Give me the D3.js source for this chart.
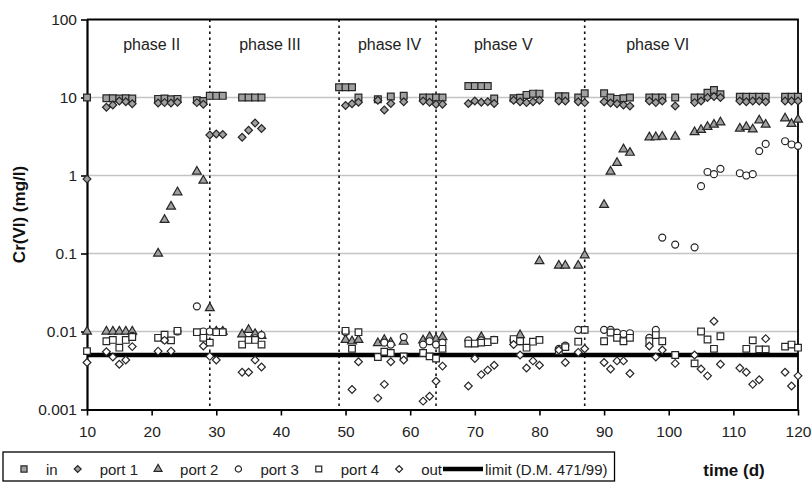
<!DOCTYPE html>
<html>
<head>
<meta charset="utf-8">
<script src="https://cdn.jsdelivr.net/npm/d3@7"></script>
<style>
  body { margin: 0; background: #fff; }
  svg { font-family: "Liberation Sans", Arial, sans-serif; }
</style>
</head>
<body>
<div id="chart"></div>
<script>
// [day, mg/l]
var inData = [[10,10],[13,9.8],[14,9.8],[15,9.7],[16,9.8],[17,9.7],[21,9.6],[22,9.7],[23,9.5],[24,9.6],[27,9.2],[28,9.0],
  [29,10.5],[30,10.5],[31,10.5],[34,10],[35,10],[36,10],[37,10],[49,13.5],[50,13.5],[51,13.5],[52,10],[55,9.5],[57,10.3],
  [59,10.5],[62,10],[63,10],[64,10],[65,10],[69,14],[70,14],[71,14],[72,14],[73,9.7],[76,9.8],[77,9.9],[78,10.8],[79,11.2],
  [80,11.2],[83,10.4],[84,10.4],[86,10],[87,11.3],[90,11.3],[91,10],[92,9.6],[93,9.8],[94,10],[97,10],[98,10],[99,10],
  [101,10],[104,10],[105,10],[106,11.5],[107,12.5],[108,11],[111,10.2],[112,10.2],[113,10.2],[114,10.2],[115,10.2],
  [118,10.2],[119,10.2],[120,10.2]];

var port1Data = [[10,0.9],[13,7.5],[14,8.0],[15,9.0],[16,8.8],[17,8.3],[21,8.5],[22,8.6],[23,8.5],[24,8.7],[27,8.6],[28,8.2],
  [29,3.3],[30,3.4],[31,3.35],[34,3.1],[35,3.8],[36,4.7],[37,4.0],[50,7.9],[51,8.3],[52,8.7],[55,9.2],[56,6.9],[57,8.4],
  [59,8.8],[62,9.0],[63,8.7],[64,8.2],[65,8.2],[69,8.4],[70,9.0],[71,8.7],[72,8.8],[73,8.4],[76,9.2],[77,8.8],[78,8.6],
  [79,8.8],[80,9.2],[83,9.0],[84,9.0],[86,8.8],[87,8.6],[90,8.8],[91,8.5],[92,8.3],[93,8.0],[94,7.8],[97,9.0],[98,8.6],
  [99,9.0],[101,7.8],[104,8.6],[105,9.0],[106,10],[107,10.3],[108,10],[111,9.0],[112,8.8],[113,9.0],[114,9.0],[115,8.8],
  [118,9.0],[119,9.0],[120,9.0]];

var port2Data = [[10,0.01],[13,0.01],[14,0.01],[15,0.01],[16,0.01],[17,0.01],[21,0.1],[22,0.27],[23,0.4],[24,0.61],
  [27,1.12],[28,0.86],[29,0.02],[30,0.01],[31,0.01],[34,0.0092],[35,0.0105],[36,0.0093],[37,0.0088],[50,0.0078],
  [51,0.0075],[52,0.0078],[55,0.0071],[56,0.0078],[57,0.0072],[59,0.0074],[62,0.0077],[63,0.0085],[64,0.008],[65,0.0085],
  [71,0.0085],[77,0.009],[80,0.08],[83,0.07],[84,0.07],[86,0.07],[87,0.095],[90,0.42],[91,1.12],[92,1.45],[93,2.17],
  [94,1.96],[97,3.09],[98,3.1],[99,3.15],[101,3.15],[104,3.6],[105,3.85],[106,4.2],[107,4.5],[108,4.8],[111,4.0],
  [112,4.2],[113,3.9],[114,5.1],[115,4.5],[118,5.4],[119,4.6],[120,5.2]];

var port3Data = [[17,0.0088],[22,0.0078],[24,0.01],[27,0.021],[28,0.01],[29,0.01],[30,0.01],[31,0.01],[36,0.0082],
  [37,0.009],[50,0.0098],[56,0.0072],[57,0.0068],[59,0.0085],[62,0.0068],[63,0.0075],[64,0.0068],[65,0.0072],[69,0.0077],
  [71,0.0077],[73,0.0078],[76,0.0078],[77,0.0075],[83,0.006],[84,0.0066],[86,0.0105],[90,0.0105],[91,0.0105],[92,0.0097],
  [93,0.0093],[94,0.0095],[97,0.0083],[98,0.0105],[99,0.16],[101,0.13],[104,0.12],[105,0.73],[106,1.11],[107,1.04],
  [108,1.22],[111,1.07],[112,1.0],[113,1.04],[114,2.06],[115,2.54],[118,2.75],[119,2.5],[120,2.4]];

var port4Data = [[10,0.0056],[13,0.0075],[14,0.0078],[15,0.0062],[16,0.0078],[17,0.0085],[21,0.0083],[22,0.0091],
  [23,0.0077],[24,0.0102],[27,0.0098],[28,0.0083],[29,0.0072],[30,0.0098],[31,0.0098],[34,0.0068],[35,0.0078],[36,0.0078],
  [37,0.0068],[50,0.0102],[51,0.006],[52,0.0098],[55,0.0047],[56,0.0055],[57,0.0053],[59,0.0048],[62,0.0053],[63,0.0048],
  [64,0.0045],[65,0.006],[69,0.007],[70,0.007],[71,0.0072],[72,0.0073],[73,0.0078],[76,0.008],[77,0.0075],[78,0.0062],
  [79,0.0074],[80,0.0078],[83,0.0056],[84,0.0063],[86,0.0074],[87,0.0105],[90,0.0075],[91,0.0097],[92,0.0083],[93,0.0075],
  [94,0.0083],[97,0.0075],[98,0.009],[99,0.0075],[101,0.005],[104,0.0039],[105,0.01],[106,0.0079],[107,0.006],[108,0.0087],
  [112,0.006],[113,0.0077],[114,0.0059],[115,0.0059],[118,0.0064],[119,0.0068],[120,0.0062]];

var outData = [[10,0.004],[13,0.0055],[14,0.0047],[15,0.0038],[16,0.0043],[17,0.0064],[21,0.0056],[22,0.0077],[23,0.0056],
  [28,0.0065],[29,0.0048],[30,0.0043],[34,0.003],[35,0.003],[36,0.0043],[37,0.0035],[51,0.0018],[52,0.0041],[55,0.0014],
  [56,0.0021],[57,0.0041],[59,0.0043],[62,0.00128],[63,0.00148],[64,0.0023],[65,0.0036],[69,0.002],[70,0.0045],[71,0.0028],
  [72,0.0032],[73,0.0037],[76,0.0068],[77,0.005],[78,0.0034],[79,0.0042],[80,0.0037],[83,0.0058],[84,0.004],[86,0.0054],
  [87,0.006],[90,0.004],[91,0.0033],[92,0.0042],[93,0.0042],[94,0.0029],[97,0.0065],[98,0.0047],[99,0.0058],[101,0.0039],
  [104,0.005],[105,0.0033],[106,0.0027],[107,0.0135],[108,0.0038],[111,0.0034],[112,0.003],[113,0.0021],[114,0.0024],
  [115,0.0081],[118,0.003],[119,0.002],[120,0.0027]];

var limitValue = 0.005;
var phaseBounds = [29, 49, 64, 87];
var phaseNames = ["phase II", "phase III", "phase IV", "phase V", "phase VI"];
var phaseLabelDays = [20, 38.3, 56.8, 74.4, 98.3];
var xTicks = [10, 20, 30, 40, 50, 60, 70, 80, 90, 100, 110, 120];
var yTicks = [0.001, 0.01, 0.1, 1, 10, 100];
var yTickLabels = ["0.001", "0.01", "0.1", "1", "10", "100"];
var legendNames = ["in", "port 1", "port 2", "port 3", "port 4", "out"];

var W = 812, H = 483;
var svg = d3.select("#chart").append("svg")
    .attr("width", W)
    .attr("height", H);

var x = d3.scaleLinear().domain([10, 120]).range([87, 798]);
var y = d3.scaleLog().domain([0.001, 100]).range([409.5, 19.5]);

var styles = [
  { data: inData,    sym: d3.symbolSquare,   size: 46, rot: 0,  fill: "#a0a0a0" },
  { data: port1Data, sym: d3.symbolSquare,   size: 30, rot: 45, fill: "#a0a0a0" },
  { data: port2Data, sym: d3.symbolTriangle, size: 34, rot: 0,  fill: "#a0a0a0" },
  { data: port3Data, sym: d3.symbolCircle,   size: 38, rot: 0,  fill: "#fff" },
  { data: port4Data, sym: d3.symbolSquare,   size: 44, rot: 0,  fill: "#fff" },
  { data: outData,   sym: d3.symbolSquare,   size: 30, rot: 45, fill: "#fff" }
];

///////////// GRID /////////////
svg.append("g").selectAll("line")
    .data(yTicks.slice(1, 5))
    .enter().append("line")
    .attr("x1", x(10)).attr("x2", x(120))
    .attr("y1", function(d) { return y(d); })
    .attr("y2", function(d) { return y(d); })
    .attr("stroke", "#c4c4c4")
    .attr("stroke-width", 1.5);

///////////// PHASE DIVIDERS /////////////
svg.append("g").selectAll("line")
    .data(phaseBounds)
    .enter().append("line")
    .attr("x1", function(d) { return x(d); })
    .attr("x2", function(d) { return x(d); })
    .attr("y1", y(100)).attr("y2", y(0.001))
    .attr("stroke", "#111")
    .attr("stroke-width", 1.6)
    .attr("stroke-dasharray", "2.5,3.5");

svg.append("g").selectAll("text")
    .data(phaseNames)
    .enter().append("text")
    .attr("x", function(d, i) { return x(phaseLabelDays[i]); })
    .attr("y", 49.5)
    .attr("text-anchor", "middle")
    .attr("font-size", 16)
    .attr("fill", "#222")
    .text(function(d) { return d; });

///////////// LIMIT LINE /////////////
svg.append("line")
    .attr("x1", x(10)).attr("x2", x(120))
    .attr("y1", y(limitValue)).attr("y2", y(limitValue))
    .attr("stroke", "#000")
    .attr("stroke-width", 4.5);

///////////// AXES /////////////
var xAxis = svg.append("g")
    .attr("transform", "translate(0," + y(0.001) + ")")
    .call(d3.axisBottom(x).tickValues(xTicks).tickSize(6).tickSizeOuter(0).tickPadding(10));
var yAxis = svg.append("g")
    .attr("transform", "translate(" + x(10) + ",0)")
    .call(d3.axisLeft(y).tickValues(yTicks).tickSize(6).tickSizeOuter(0).tickPadding(4)
      .tickFormat(function(d, i) { return yTickLabels[i]; }));

[xAxis, yAxis].forEach(function(a) {
  a.select(".domain").attr("stroke", "#000").attr("stroke-width", 2.2);
  a.selectAll(".tick line").attr("stroke", "#000").attr("stroke-width", 1.6);
  a.selectAll(".tick text").attr("font-size", 15.5).attr("fill", "#222")
    .attr("font-family", "Liberation Sans, Arial, sans-serif");
});

// top and right frame
svg.append("path")
    .attr("d", "M" + x(10) + "," + y(100) + "H" + x(120) + "V" + y(0.001))
    .attr("fill", "none")
    .attr("stroke", "#000")
    .attr("stroke-width", 1.8);

///////////// MARKERS /////////////
styles.forEach(function(s) {
  svg.append("g").selectAll("path")
    .data(s.data)
    .enter().append("path")
    .attr("d", d3.symbol().type(s.sym).size(s.size))
    .attr("transform", function(d) {
      return "translate(" + x(d[0]) + "," + y(d[1]) + ") rotate(" + s.rot + ")";
    })
    .attr("fill", s.fill)
    .attr("stroke", "#262626")
    .attr("stroke-width", 1.2);
});

///////////// AXIS TITLES /////////////
svg.append("text")
    .attr("transform", "translate(25," + ((y(100) + y(0.001)) / 2) + ") rotate(-90)")
    .attr("text-anchor", "middle")
    .attr("font-size", 17)
    .attr("font-weight", "bold")
    .attr("fill", "#111")
    .text("Cr(VI) (mg/l)");

svg.append("text")
    .attr("x", 734)
    .attr("y", 476)
    .attr("text-anchor", "middle")
    .attr("font-size", 17)
    .attr("font-weight", "bold")
    .attr("fill", "#111")
    .text("time (d)");

///////////// LEGEND /////////////
var legend = svg.append("g");
var lx = 24, ly = 470;
styles.forEach(function(s, i) {
  legend.append("path")
    .attr("d", d3.symbol().type(s.sym).size(s.size * 0.8))
    .attr("transform", "translate(" + lx + "," + (ly - 1) + ") rotate(" + s.rot + ")")
    .attr("fill", s.fill)
    .attr("stroke", "#262626")
    .attr("stroke-width", 1.2);
  var t = legend.append("text")
    .attr("x", lx + 22)
    .attr("y", ly + 5)
    .attr("font-size", 15)
    .attr("fill", "#222")
    .text(legendNames[i]);
  var w = t.node().getComputedTextLength();
  lx = lx + 22 + w + (i < 5 ? 20 : 1);
});
legend.append("line")
    .attr("x1", lx).attr("x2", lx + 40)
    .attr("y1", ly - 1).attr("y2", ly - 1)
    .attr("stroke", "#000")
    .attr("stroke-width", 4.5);
var lt = legend.append("text")
    .attr("x", lx + 42)
    .attr("y", ly + 5)
    .attr("font-size", 15)
    .attr("fill", "#222")
    .text("limit (D.M. 471/99)");
var lend = lx + 42 + lt.node().getComputedTextLength() + 7;
legend.insert("rect", ":first-child")
    .attr("x", 3).attr("y", 452)
    .attr("width", lend - 3).attr("height", 29)
    .attr("fill", "#fff")
    .attr("stroke", "#000")
    .attr("stroke-width", 1.3);
</script>
</body>
</html>
